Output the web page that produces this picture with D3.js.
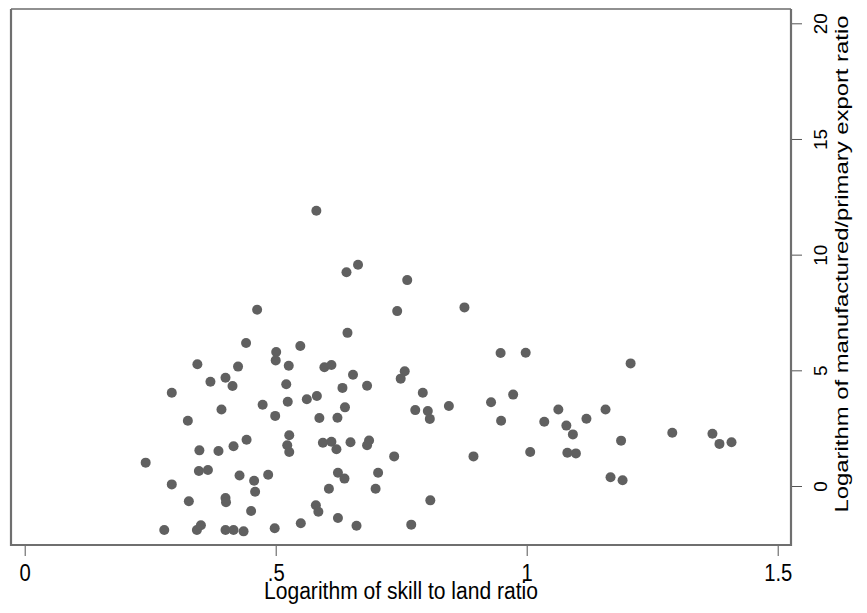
<!DOCTYPE html>
<html>
<head>
<meta charset="utf-8">
<script src="https://cdn.jsdelivr.net/npm/d3@7"></script>
<style>
  body { margin: 0; background: #fff; }
  text { font-family: "Liberation Sans", Arial, sans-serif; fill: #000; }
</style>
</head>
<body>
<div id="scatter"></div>
<script>
// log skill/land ratio (x) and log manufactured/primary export ratio (y)
var skillLand = [
  0.581, 0.641, 0.664, 0.762, 0.463, 0.742, 0.643, 0.441, 0.501, 0.500,
  0.549, 0.344, 0.425, 0.526, 0.597, 0.611, 0.757, 0.749, 0.654, 0.370,
  0.400, 0.414, 0.521, 0.633, 0.682, 0.293, 0.793, 0.474, 0.524, 0.562,
  0.582, 0.392, 0.499, 0.587, 0.623, 0.638, 0.778, 0.803, 0.807, 0.325,
  0.527, 0.442, 0.416, 0.386, 0.348, 0.523, 0.527, 0.594, 0.611, 0.621,
  0.649, 0.686, 0.682, 0.736, 0.241, 0.347, 0.365, 0.428, 0.457, 0.485,
  0.624, 0.637, 0.704, 0.293, 0.459, 0.606, 0.699, 0.327, 0.400, 0.401,
  0.451, 0.580, 0.585, 0.808, 0.278, 0.343, 0.351, 0.400, 0.416, 0.436,
  0.498, 0.550, 0.624, 0.661, 0.770, 0.876, 0.948, 0.998, 1.207, 0.845,
  0.929, 0.973, 0.949, 0.894, 1.007, 1.035, 1.063, 1.079, 1.092, 1.119,
  1.157, 1.081, 1.098, 1.188, 1.290, 1.370, 1.384, 1.408, 1.167, 1.191
];

var exportRatio = [
  11.90, 9.24, 9.56, 8.90, 7.62, 7.56, 6.62, 6.18, 5.79, 5.43,
  6.05, 5.26, 5.16, 5.20, 5.13, 5.23, 4.96, 4.64, 4.81, 4.51,
  4.68, 4.32, 4.40, 4.24, 4.33, 4.03, 4.03, 3.51, 3.64, 3.75,
  3.89, 3.31, 3.03, 2.94, 2.95, 3.40, 3.28, 3.24, 2.90, 2.82,
  2.19, 2.00, 1.72, 1.51, 1.54, 1.76, 1.47, 1.87, 1.91, 1.59,
  1.89, 1.97, 1.76, 1.28, 1.01, 0.65, 0.69, 0.45, 0.23, 0.49,
  0.57, 0.32, 0.57, 0.07, -0.25, -0.12, -0.12, -0.66, -0.52, -0.70,
  -1.08, -0.83, -1.11, -0.62, -1.90, -1.90, -1.70, -1.90, -1.90, -1.96,
  -1.83, -1.61, -1.38, -1.72, -1.67, 7.72, 5.75, 5.76, 5.30, 3.46,
  3.62, 3.95, 2.82, 1.28, 1.47, 2.78, 3.31, 2.61, 2.23, 2.91,
  3.31, 1.44, 1.41, 1.96, 2.30, 2.26, 1.82, 1.89, 0.38, 0.25
];

var xTicks = [0, 0.5, 1, 1.5];
var xTickLabels = ["0", ".5", "1", "1.5"];
var yTicks = [0, 5, 10, 15, 20];
var yTickLabels = ["0", "5", "10", "15", "20"];

var xTitle = "Logarithm of skill to land ratio";
var yTitle = "Logarithm of manufactured/primary export ratio";

var width = 867, height = 613;
var frame = {left: 11, top: 9, right: 791, bottom: 545};

var data = skillLand.map(function(v, i) {
  return {x: v, y: exportRatio[i]};
});

var x = d3.scaleLinear()
    .domain([0, 1.5])
    .range([24.7, 777.7]);

var y = d3.scaleLinear()
    .domain([0, 20])
    .range([486, 23.3]);

var svg = d3.select("#scatter")
  .append("svg")
    .attr("width", width)
    .attr("height", height);

svg.append("rect")
    .attr("width", width)
    .attr("height", height)
    .attr("fill", "#fff");

// points
svg.append("g")
    .selectAll("circle")
    .data(data)
    .enter()
  .append("circle")
    .attr("cx", function(d) { return x(d.x); })
    .attr("cy", function(d) { return y(d.y); })
    .attr("r", 5)
    .attr("fill", "#606060");

// plot frame
svg.append("line")
    .attr("x1", frame.left).attr("x2", frame.right)
    .attr("y1", frame.top).attr("y2", frame.top)
    .attr("stroke", "#222").attr("stroke-width", 1.2);
svg.append("path")
    .attr("d", "M" + frame.left + "," + frame.top + "V" + frame.bottom + "H" + frame.right + "V" + frame.top)
    .attr("fill", "none")
    .attr("stroke", "#6f6f6f")
    .attr("stroke-width", 2.2);

// x axis
var xAxis = svg.append("g")
    .attr("transform", "translate(0," + (frame.bottom + 1) + ")")
    .call(d3.axisBottom(x)
      .tickValues(xTicks)
      .tickSize(10)
      .tickFormat(function(d, i) { return xTickLabels[i]; }));
xAxis.select(".domain").remove();
xAxis.selectAll(".tick line").attr("stroke", "#555");
xAxis.selectAll(".tick text")
    .attr("y", 0)
    .attr("dy", null)
    .attr("font-size", 23)
    .attr("transform", function() { return "translate(0,35) scale(0.88,1)"; });

svg.append("text")
    .attr("x", (frame.left + frame.right) / 2)
    .attr("y", 599)
    .attr("text-anchor", "middle")
    .attr("font-size", 23)
    .attr("textLength", 274)
    .attr("lengthAdjust", "spacingAndGlyphs")
    .text(xTitle);

// y axis on the right
var yAxis = svg.append("g")
    .attr("transform", "translate(" + (frame.right + 1) + ",0)")
    .call(d3.axisRight(y)
      .tickValues(yTicks)
      .tickSize(10)
      .tickFormat(function(d, i) { return yTickLabels[i]; }));
yAxis.select(".domain").remove();
yAxis.selectAll(".tick line").attr("stroke", "#555");
yAxis.selectAll(".tick text")
    .attr("x", 0)
    .attr("dy", null)
    .attr("text-anchor", "middle")
    .attr("font-size", 19)
    .attr("transform", "translate(34.5,0) rotate(-90)");

svg.append("text")
    .attr("transform", "translate(848," + 264 + ") scale(0.85,1) rotate(-90)")
    .attr("text-anchor", "middle")
    .attr("font-size", 22)
    .attr("textLength", 497)
    .attr("lengthAdjust", "spacingAndGlyphs")
    .text(yTitle);
</script>
</body>
</html>
